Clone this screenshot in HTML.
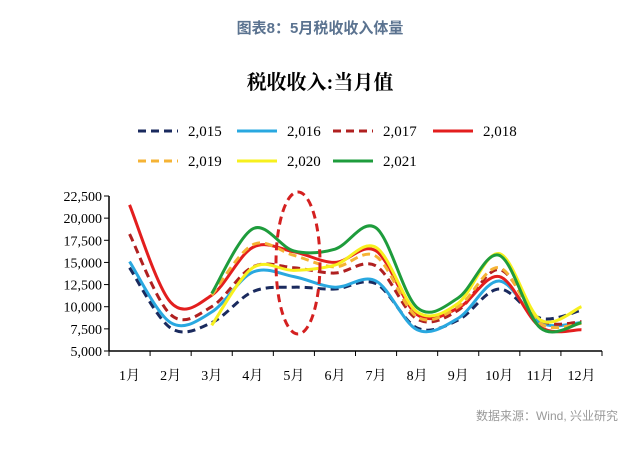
<!DOCTYPE html>
<html><head><meta charset="utf-8"><style>
body{margin:0;background:#fff;width:640px;height:451px;overflow:hidden}
svg{display:block}
text{font-family:"Liberation Serif","Noto Serif CJK SC",serif}
</style></head><body>
<svg width="640" height="451">
<text x="320" y="33" text-anchor="middle" fill="#5b7390" font-size="15" font-weight="bold" style="font-family:'Liberation Sans','Noto Sans CJK SC',sans-serif">图表8：5月税收收入体量</text>
<text x="320" y="89" text-anchor="middle" fill="#000" font-size="20" font-weight="bold">税收收入:当月值</text>
<g id="legend"></g>
<g id="axes"></g>
<g id="series"></g>
<ellipse cx="298" cy="263" rx="22" ry="71" fill="none" stroke="#d42020" stroke-width="3" stroke-dasharray="8,5"/>
<text x="618" y="420" text-anchor="end" fill="#999" font-size="12" style="font-family:'Liberation Sans','Noto Sans CJK SC',sans-serif">数据来源：Wind, 兴业研究</text>
</svg>
<script>
const months=["1月","2月","3月","4月","5月","6月","7月","8月","9月","10月","11月","12月"];
const yTicks=[5000,7500,10000,12500,15000,17500,20000,22500];
const names=["2,015","2,016","2,017","2,018","2,019","2,020","2,021"];
const s2015=[14400,7600,8200,11700,12200,12000,12600,7600,8500,12000,8700,9600];
const s2016=[15100,8200,9400,13900,13400,12200,12900,7400,8700,12900,8200,8200];
const s2017=[18200,9100,10000,14500,14400,13800,14600,8600,9600,14200,8500,8300];
const s2018=[21500,10500,11300,16700,16200,15000,16300,9100,9850,13400,7700,7400];
const s2019=[null,null,11300,17000,15800,14500,15700,8850,10000,14400,8100,8100];
const s2020=[null,null,7900,14400,14100,14700,16700,9400,10400,16000,8500,10000];
const s2021=[null,null,11500,18800,16300,16500,18900,9900,11000,15800,7600,8200];
const colors=["#1a2a5e","#29a8e0","#b02020","#e31e1e","#f5b335","#f7f01e","#1e9c3c"];
const dashed=[true,false,true,false,true,false,false];
const allSeries=[s2015,s2016,s2017,s2018,s2019,s2020,s2021];
const NS="http://www.w3.org/2000/svg";
const x0=109,x1=602,y0=351,y1=196;
const xs=i=>x0+(x1-x0)/12*(i+0.5);
const ys=v=>y0-(v-5000)/17500*(y0-y1);
function el(t,a,p){const e=document.createElementNS(NS,t);for(const k in a)e.setAttribute(k,a[k]);p.appendChild(e);return e;}
const ax=document.getElementById('axes');
const yl=el('line',{x1:x0,y1:y1,x2:x0,y2:y0,stroke:'#000','stroke-width':1.5},ax);


const xl=el('line',{x1:x0,y1:y0,x2:x1,y2:y0,stroke:'#000','stroke-width':1.5},ax);


yTicks.forEach(v=>{
 el('line',{x1:x0-5,y1:ys(v),x2:x0,y2:ys(v),stroke:'#000'},ax);
 const t=el('text',{x:x0-7,y:ys(v)+5,'text-anchor':'end','font-size':14},ax);
 t.textContent=v.toLocaleString('en-US');
 
 
});
for(let i=0;i<=12;i++)el('line',{x1:x0+(x1-x0)/12*i,y1:y0,x2:x0+(x1-x0)/12*i,y2:y0+5,stroke:'#000'},ax);
months.forEach((m,i)=>{
 const t=el('text',{x:xs(i),y:380,'text-anchor':'middle','font-size':14},ax);
 t.textContent=m;
 
 
});
function path(pts){
 let d=`M${pts[0][0]},${pts[0][1]}`;
 for(let i=0;i<pts.length-1;i++){
  const p0=pts[i-1]||pts[i],p1=pts[i],p2=pts[i+1],p3=pts[i+2]||p2;
  const c1=[p1[0]+(p2[0]-p0[0])/6,p1[1]+(p2[1]-p0[1])/6];
  const c2=[p2[0]-(p3[0]-p1[0])/6,p2[1]-(p3[1]-p1[1])/6];
  d+=` C${c1[0]},${c1[1]} ${c2[0]},${c2[1]} ${p2[0]},${p2[1]}`;
 }
 return d;
}
const sg=document.getElementById('series');
allSeries.forEach((s,k)=>{
 const pts=[];s.forEach((v,i)=>{if(v!=null)pts.push([xs(i),ys(v)]);});
 const p=el('path',{d:path(pts),fill:'none',stroke:colors[k],'stroke-width':3,'stroke-dasharray':dashed[k]?'8,5':'none'},sg);
 
 
});
const lg=document.getElementById('legend');
const lx=[138,237,333,433];
names.forEach((n,k)=>{
 const x=lx[k%4],y=k<4?131:161;
 const l=el('line',{x1:x,y1:y,x2:x+40,y2:y,stroke:colors[k],'stroke-width':3,'stroke-dasharray':dashed[k]?'8,5':'none'},lg);
 
 
 const t=el('text',{x:x+50,y:y+5,'font-size':15},lg);
 t.textContent=n;
 
 
});
</script>
</body></html>
